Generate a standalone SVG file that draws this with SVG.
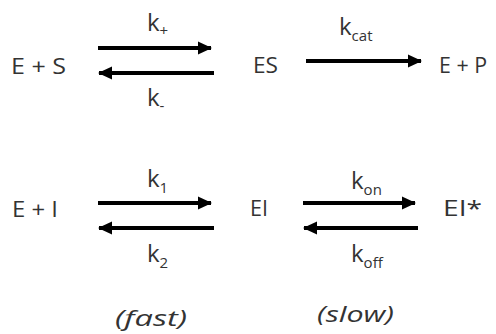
<svg xmlns="http://www.w3.org/2000/svg" width="496" height="334" viewBox="0 0 496 334">
<style>
text{font-family:"Open Sans","Noto Sans",sans-serif;fill:#333;font-size:22px}
.k{font-size:24px}
.sub{font-size:15px}
.it{font-style:italic}
.arr{stroke:#000;stroke-width:4;fill:none}
</style>
<defs>
<marker id="ah" markerUnits="userSpaceOnUse" markerWidth="14" markerHeight="14" refX="13" refY="7" orient="auto">
<path d="M0,0.5 L14,7 L0,13.5 Z" fill="#000"/>
</marker>
</defs>
<g id="connectors">
<line class="arr" x1="98" y1="48" x2="211" y2="48" marker-end="url(#ah)"/>
<line class="arr" x1="214" y1="73" x2="99" y2="73" marker-end="url(#ah)"/>
<line class="arr" x1="306" y1="61" x2="421" y2="61" marker-end="url(#ah)"/>
<line class="arr" x1="98" y1="203" x2="211" y2="203" marker-end="url(#ah)"/>
<line class="arr" x1="214" y1="228" x2="99" y2="228" marker-end="url(#ah)"/>
<line class="arr" x1="303" y1="203" x2="415" y2="203" marker-end="url(#ah)"/>
<line class="arr" x1="418" y1="228" x2="304" y2="228" marker-end="url(#ah)"/>
</g>
<g id="labels">
<text class="k" x="147" y="31">k<tspan class="sub" dy="5">+</tspan></text>
<text class="k" x="147" y="106">k<tspan class="sub" dy="5">-</tspan></text>
<text class="k" x="339" y="35">k<tspan class="sub" dy="6">cat</tspan></text>
<text class="k" x="147" y="187">k<tspan class="sub" dy="6">1</tspan></text>
<text class="k" x="147" y="262">k<tspan class="sub" dy="6">2</tspan></text>
<text class="k" x="351" y="189">k<tspan class="sub" dy="6">on</tspan></text>
<text class="k" x="351" y="262">k<tspan class="sub" dy="6">off</tspan></text>
</g>
<g id="ES_reactants"><text x="11" y="74" textLength="55" lengthAdjust="spacingAndGlyphs">E + S</text></g>
<g id="ES"><text x="253" y="73" textLength="25" lengthAdjust="spacingAndGlyphs">ES</text></g>
<g id="EP"><text x="439" y="73" textLength="48" lengthAdjust="spacingAndGlyphs">E + P</text></g>
<g id="EI_reactants"><text x="12" y="217" textLength="46" lengthAdjust="spacingAndGlyphs">E + I</text></g>
<g id="EI"><text x="250" y="216" textLength="18" lengthAdjust="spacingAndGlyphs">EI</text></g>
<g id="EIstar"><text x="443" y="216" textLength="39" lengthAdjust="spacingAndGlyphs">EI*</text></g>
<g id="fast"><text class="it" x="115" y="326" textLength="72" lengthAdjust="spacingAndGlyphs">(fast)</text></g>
<g id="slow"><text class="it" x="317" y="322" textLength="77" lengthAdjust="spacingAndGlyphs">(slow)</text></g>
</svg>
